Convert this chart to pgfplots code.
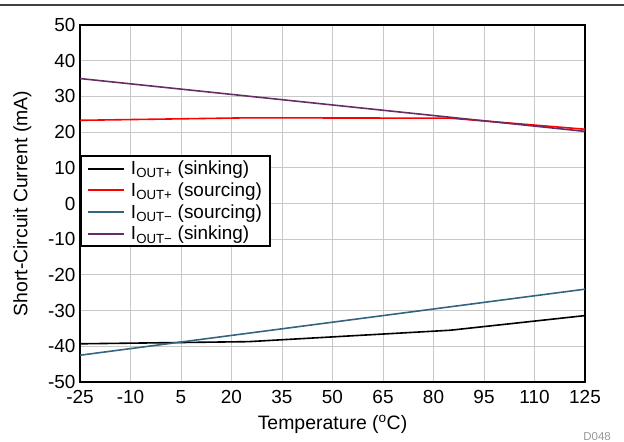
\documentclass[border=0pt]{standalone}
\usepackage{pgfplots}
\pgfplotsset{compat=1.18}
\usepackage{fontspec}
\setmainfont{Liberation Sans}
\definecolor{teal1}{RGB}{52,101,128}
\definecolor{purp1}{RGB}{104,44,100}
\definecolor{gridc}{RGB}{200,200,200}
\begin{document}
\begin{tikzpicture}
\useasboundingbox (0bp,0bp) rectangle (624bp,442bp);
\draw[black!75, line width=1.2bp] (0bp,437bp) -- (624bp,437bp);
\node[anchor=east, text=black!40, font=\fontsize{11.5}{13}\selectfont, inner sep=0pt] at (611bp,5bp) {D048};
\begin{axis}[
  at={(80bp,60bp)}, anchor=south west,
  scale only axis, width=505bp, height=357bp,
  xmin=-25, xmax=125, ymin=-50, ymax=50,
  xtick={-25,-10,...,125}, ytick={-50,-40,...,50},
  grid=major, major grid style={gridc, line width=0.9bp},
  major tick length=0pt,
  axis line style={line width=2.2bp},
  tick label style={font=\fontsize{19}{22}\selectfont},
  /pgf/number format/assume math mode=true,
  xticklabel style={yshift=-5bp},
  yticklabel style={xshift=-1bp},
  label style={font=\fontsize{19.5}{22}\selectfont},
  xlabel={Temperature (\textsuperscript{o}C)},
  ylabel={Short-Circuit Current (mA)},
  xlabel style={yshift=-4bp},
  ylabel style={yshift=10bp},
  legend cell align=left,
  legend style={at={(0,0.636)}, anchor=north west, draw=black, line width=2bp,
     font=\fontsize{19}{22}\selectfont, inner xsep=6bp, inner ysep=3bp, row sep=2.5bp,
     fill=white},
  legend image post style={line width=2bp},
  legend image code/.code={\draw[#1] (0bp,0bp) -- (36bp,0bp); \path (40bp,0bp);},
]
\addplot[black, line width=1.6bp] coordinates {(-25,-39.3) (25,-38.7) (85,-35.5) (125,-31.4)};
\addlegendentry{I\textsubscript{OUT+} (sinking)}
\addplot[red, line width=1.6bp] coordinates {(-25,23.3) (25,24.0) (85,23.9) (125,20.8)};
\addlegendentry{I\textsubscript{OUT+} (sourcing)}
\addplot[teal1, line width=1.6bp] coordinates {(-25,-42.5) (125,-24.0)};
\addlegendentry{I\textsubscript{OUT−} (sourcing)}
\addplot[purp1, line width=1.6bp] coordinates {(-25,35.0) (125,20.2)};
\addlegendentry{I\textsubscript{OUT−} (sinking)}
\end{axis}
\end{tikzpicture}
\end{document}
